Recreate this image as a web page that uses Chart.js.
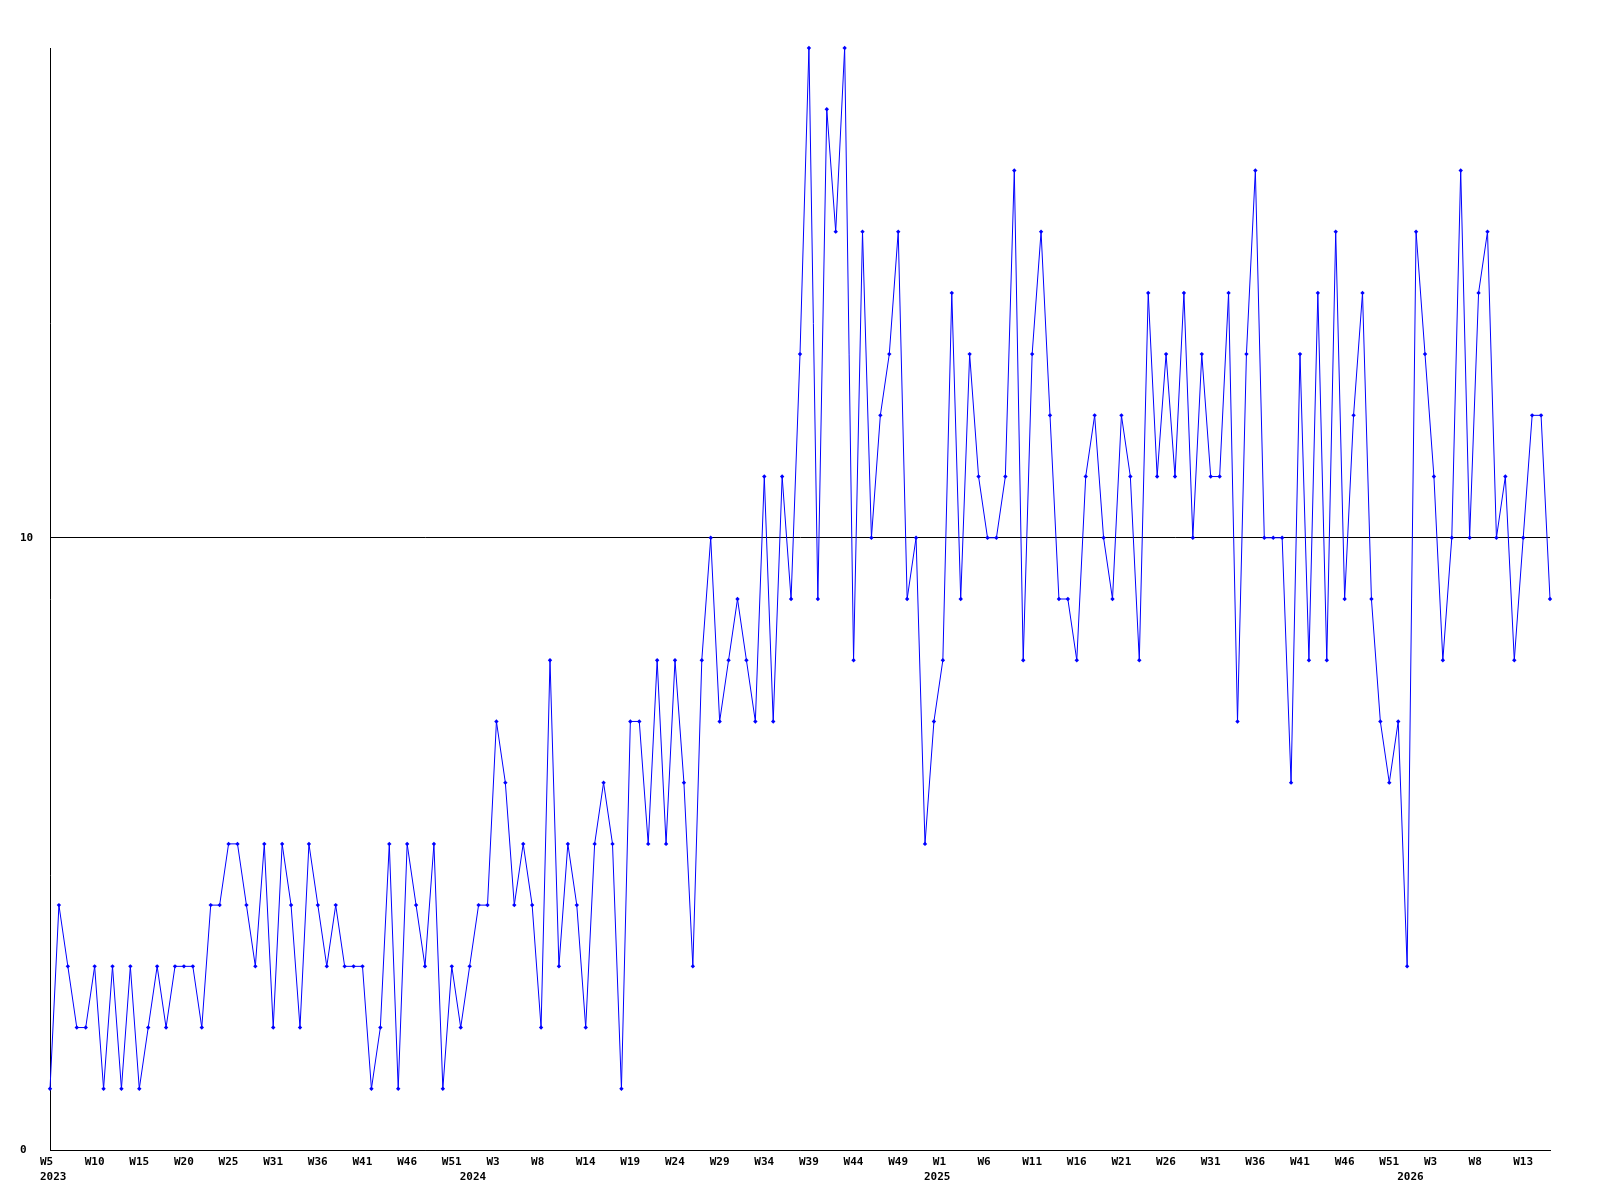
<!DOCTYPE html>
<html>
<head>
<meta charset="utf-8">
<script src="https://cdn.jsdelivr.net/npm/chart.js@4/dist/chart.umd.min.js"></script>
<style>
html,body{margin:0;padding:0;background:#fff;}
#wrap{width:1600px;height:1200px;}
</style>
</head>
<body>
<div id="wrap"><canvas id="weekChart" width="1600" height="1200"></canvas></div>
<script>
// one value per week, first point is W5 2023
const counts = [
    1,4,3,2,2,3,1,3,1,3,1,2,3,2,3,3,3,2,4,4,5,5,4,3,5,2,5,4,2,
    5,4,3,4,3,3,3,1,2,5,1,5,4,3,5,1,3,2,3,4,4,7,6,4,5,4,2,8,
    3,5,4,2,5,6,5,1,7,7,5,8,5,8,6,3,8,10,7,8,9,8,7,11,7,11,9,13,
    18,9,17,15,18,8,15,10,12,13,15,9,10,5,7,8,14,9,13,11,10,10,11,16,8,13,15,12,
    9,9,8,11,12,10,9,12,11,8,14,11,13,11,14,10,13,11,11,14,7,13,16,10,10,10,6,13,
    8,14,8,15,9,12,14,9,7,6,7,3,15,13,11,8,10,16,10,14,15,10,11,8,10,12,12,9
];

// week caption under every 5th point
const weekTicks = ['W5','W10','W15','W20','W25','W31','W36','W41','W46','W51',
    'W3','W8','W14','W19','W24','W29','W34','W39','W44','W49',
    'W1','W6','W11','W16','W21','W26','W31','W36','W41','W46','W51',
    'W3','W8','W13'];
const tickEvery = 5;

// year captions (second line) and the point they sit under
const yearTicks = ['2023','2024','2025','2026'];
const yearTickAt = [0,47,99,152];

const yTicks = [0,10];

const categories = counts.map((c,i) => i);

Chart.defaults.font.family = "'DejaVu Sans Mono', monospace";
Chart.defaults.font.size = 11;
Chart.defaults.font.weight = 'bold';
Chart.defaults.color = '#000';

function xLabel(value, index) {
    let wk = (index % tickEvery === 0 && weekTicks[index/tickEvery]) ? weekTicks[index/tickEvery] : '';
    let y = yearTickAt.indexOf(index);
    if (y >= 0) return [wk, yearTicks[y]];
    return wk;
}

new Chart(document.getElementById('weekChart'), {
    type: 'line',
    data: {
        labels: categories,
        datasets: [{
            data: counts,
            borderColor: '#0000ff',
            backgroundColor: '#0000ff',
            borderWidth: 1,
            tension: 0,
            pointStyle: 'rectRot',
            pointRadius: 2.2,
            pointBorderWidth: 0,
            pointHoverRadius: 2.2,
            clip: false
        }]
    },
    options: {
        responsive: false,
        animation: false,
        devicePixelRatio: 1,
        layout: {padding: {top: 48, right: 50, left: 20, bottom: 0}},
        plugins: {legend: {display: false}, tooltip: {enabled: false}},
        scales: {
            x: {
                offset: false,
                grid: {display: false, drawTicks: false},
                border: {display: true, color: '#000', width: 1},
                ticks: {
                    autoSkip: false,
                    maxRotation: 0,
                    padding: 5,
                    align: 'start',
                    labelOffset: -10,
                    font: {lineHeight: 1.35},
                    callback: xLabel
                },
                afterFit: s => { s.height = 50; }
            },
            y: {
                min: 0,
                max: 18,
                grid: {color: '#000', lineWidth: 1, drawTicks: false},
                border: {display: true, color: '#000', width: 1},
                ticks: {padding: 4, crossAlign: 'far'},
                afterBuildTicks: s => { s.ticks = yTicks.map(v => ({value: v})); },
                afterFit: s => { s.width = 30; }
            }
        }
    }
});
</script>
</body>
</html>
